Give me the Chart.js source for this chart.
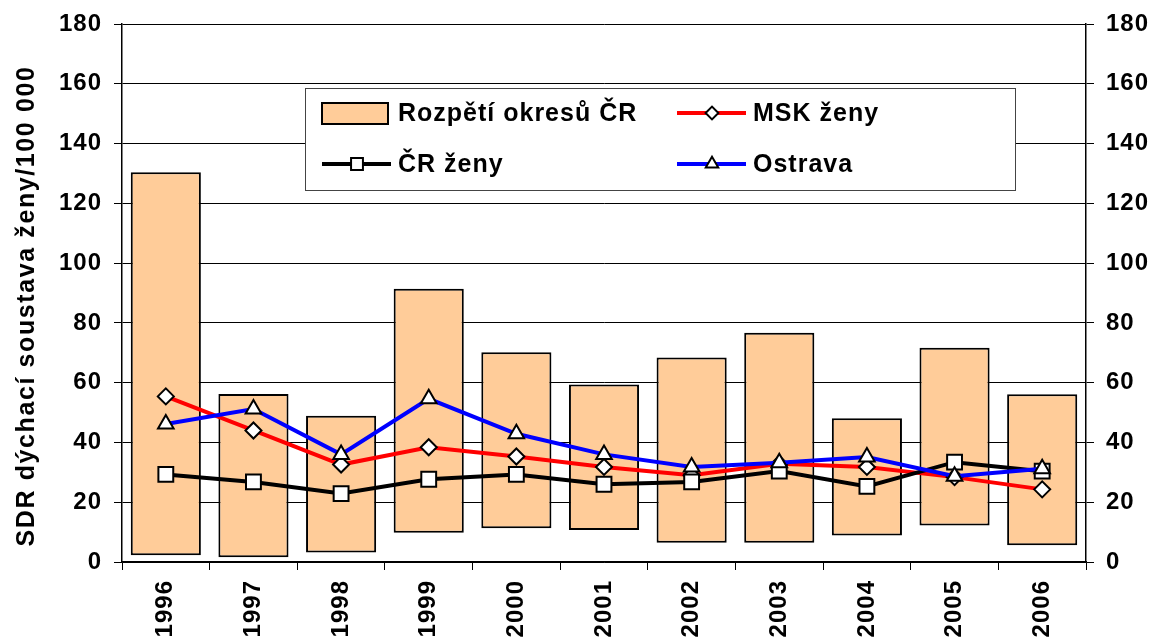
<!DOCTYPE html>
<html>
<head>
<meta charset="utf-8">
<script src="https://cdn.jsdelivr.net/npm/chart.js@4"></script>
<style>
  body { margin: 0; background: #fff; }
  #wrap { width: 1157px; height: 642px; }
</style>
</head>
<body>
<div id="wrap"><canvas id="graf"></canvas></div>
<script>
// data
const years = ['1996', '1997', '1998', '1999', '2000', '2001', '2002', '2003', '2004', '2005', '2006'];
const rangeMin = [2.3, 1.6, 3.2, 9.8, 11.3, 10.7, 6.4, 6.4, 8.9, 12.2, 5.6];
const rangeMax = [130.4, 56.2, 48.9, 91.4, 70.2, 59.4, 68.4, 76.7, 48.1, 71.7, 56.1];
const mskZeny = [55.4, 44.0, 32.6, 38.4, 35.3, 31.8, 29.0, 32.9, 31.8, 28.4, 24.3];
const crZeny = [29.3, 26.8, 22.9, 27.7, 29.3, 26.0, 26.8, 30.4, 25.3, 33.4, 30.4];
const ostrava = [46.2, 51.2, 36.0, 54.6, 42.9, 36.0, 31.8, 33.2, 35.1, 28.7, 31.2];
const yTicks = [0, 20, 40, 60, 80, 100, 120, 140, 160, 180];
const yTitle = 'SDR dýchací soustava ženy/100 000';

const FONT = '"Liberation Sans", Arial, sans-serif';
Chart.defaults.font.family = FONT;
Chart.defaults.color = '#000';

const peach = '#FFCC99';

// letter spacing like the exported original, plus the y title and boxed legend
const extras = {
  id: 'extras',
  beforeLayout(chart) { chart.ctx.letterSpacing = '1px'; },
  beforeDraw(chart) { chart.ctx.letterSpacing = '1px'; },
  afterDraw(chart) {
    const ctx = chart.ctx;

    // y axis title
    ctx.save();
    ctx.letterSpacing = '1.6px';
    ctx.translate(27, 306);
    ctx.rotate(-Math.PI / 2);
    ctx.font = 'bold 25px ' + FONT;
    ctx.fillStyle = '#000';
    ctx.textAlign = 'center';
    ctx.textBaseline = 'middle';
    ctx.fillText(yTitle, 0, 0);
    ctx.restore();

    // legend box
    ctx.save();
    ctx.fillStyle = '#fff';
    ctx.fillRect(305, 88, 710, 102);
    ctx.strokeStyle = '#444';
    ctx.lineWidth = 1;
    ctx.strokeRect(305.5, 88.5, 710, 102);

    const ds = chart.data.datasets;
    const rows = [113, 164];
    const cols = [322, 677];
    const slots = [[0, 0, 0], [1, 1, 0], [2, 0, 1], [3, 1, 1]];
    ctx.font = 'bold 25px ' + FONT;
    ctx.textBaseline = 'middle';
    ctx.textAlign = 'left';
    slots.forEach(([i, c, r]) => {
      const d = ds[i];
      const x = cols[c], y = rows[r];
      if (d.type === 'line') {
        ctx.strokeStyle = d.borderColor;
        ctx.lineWidth = 4;
        ctx.beginPath();
        ctx.moveTo(x, y);
        ctx.lineTo(x + 69, y);
        ctx.stroke();
        ctx.fillStyle = '#fff';
        ctx.strokeStyle = '#000';
        ctx.lineWidth = 2;
        Chart.helpers.drawPoint(ctx, {
          pointStyle: d.pointStyle,
          radius: d.pointRadius * 0.8,
          rotation: 0,
          borderWidth: 2
        }, x + 35, y);
      } else {
        ctx.fillStyle = peach;
        ctx.fillRect(x, y - 10, 66, 21);
        ctx.strokeStyle = '#000';
        ctx.lineWidth = 2;
        ctx.strokeRect(x, y - 10, 66, 21);
      }
      ctx.fillStyle = '#000';
      ctx.letterSpacing = '1px';
      ctx.fillText(d.label, x + 76, y + 1);
    });
    ctx.restore();
  }
};

const lineSet = (label, values, color, style, radius, order) => ({
  type: 'line',
  label: label,
  data: values,
  borderColor: color,
  borderWidth: 4,
  pointStyle: style,
  pointRadius: radius,
  pointBackgroundColor: '#fff',
  pointBorderColor: '#000',
  pointBorderWidth: 2,
  tension: 0,
  order: order,
  yAxisID: 'y'
});

const chart = new Chart(document.getElementById('graf').getContext('2d'), {
  type: 'bar',
  data: {
    labels: years,
    datasets: [
      {
        type: 'bar',
        label: 'Rozpětí okresů ČR',
        data: years.map((_, i) => [rangeMin[i], rangeMax[i]]),
        backgroundColor: peach,
        borderColor: '#000',
        borderWidth: 2,
        borderSkipped: false,
        barPercentage: 0.8,
        categoryPercentage: 1,
        order: 10,
        yAxisID: 'y'
      },
      lineSet('MSK ženy', mskZeny, '#FF0000', 'rectRot', 8, 3),
      lineSet('ČR ženy', crZeny, '#000000', 'rect', 10.5, 2),
      lineSet('Ostrava', ostrava, '#0000FF', 'triangle', 9, 1)
    ]
  },
  options: {
    responsive: true,
    maintainAspectRatio: false,
    animation: false,
    layout: { padding: { top: 22, left: 0, right: 0, bottom: 0 } },
    plugins: {
      legend: { display: false },
      title: { display: false },
      tooltip: { enabled: false }
    },
    scales: {
      x: {
        offset: true,
        grid: {
          offset: true,
          drawOnChartArea: false,
          drawTicks: true,
          tickLength: 8,
          color: '#000',
          lineWidth: 1
        },
        border: { color: '#000', width: 1.5 },
        ticks: {
          minRotation: 90,
          maxRotation: 90,
          padding: 10,
          font: { size: 24, weight: 'bold' },
          color: '#000'
        },
        afterFit(scale) { scale.height = 80; }
      },
      y: {
        position: 'left',
        min: 0,
        max: 180,
        afterBuildTicks(scale) { scale.ticks = yTicks.map(v => ({ value: v })); },
        grid: { color: '#000', lineWidth: 1, tickLength: 8 },
        border: { color: '#000', width: 1.5 },
        ticks: { padding: 12, font: { size: 24, weight: 'bold', lineHeight: 1 }, color: '#000' },
        afterFit(scale) { scale.width = 122; }
      },
      y2: {
        position: 'right',
        min: 0,
        max: 180,
        afterBuildTicks(scale) { scale.ticks = yTicks.map(v => ({ value: v })); },
        grid: { drawOnChartArea: false, color: '#000', lineWidth: 1, tickLength: 8 },
        border: { color: '#000', width: 1.5 },
        ticks: { padding: 12, font: { size: 24, weight: 'bold', lineHeight: 1 }, color: '#000' },
        afterFit(scale) { scale.width = 71; }
      }
    }
  },
  plugins: [extras]
});
</script>
</body>
</html>
